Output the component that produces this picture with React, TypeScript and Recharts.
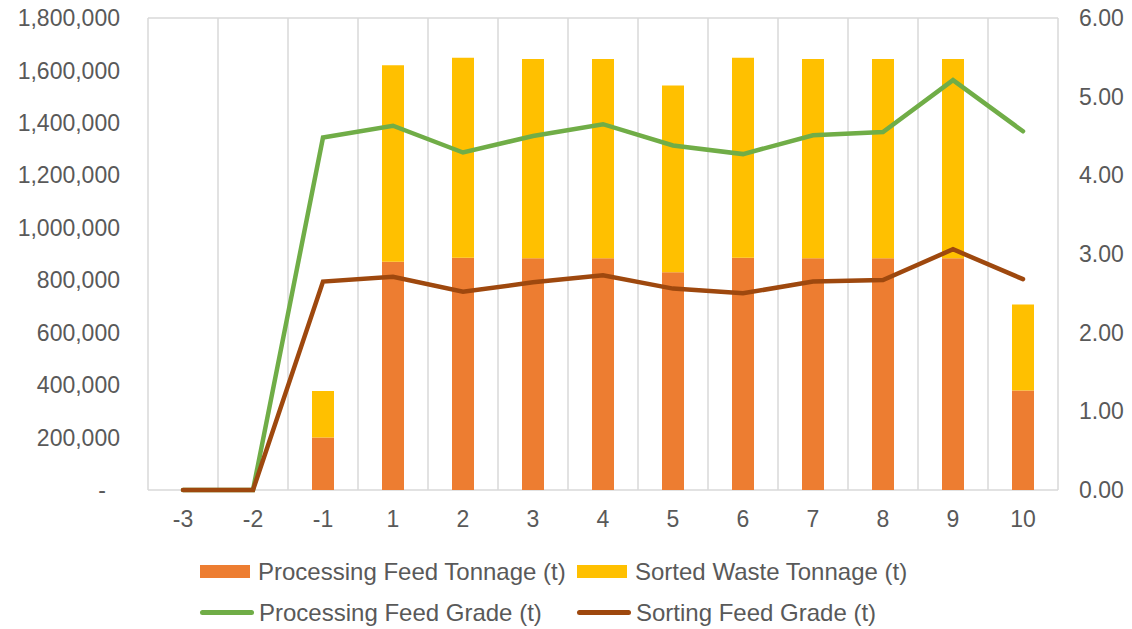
import { ComposedChart, Bar, Line, XAxis, YAxis, CartesianGrid, Legend } from "recharts";

const categories = ["-3", "-2", "-1", "1", "2", "3", "4", "5", "6", "7", "8", "9", "10"];
const processingFeedTonnage = [0, 0, 200000, 870000, 886000, 884000, 884000, 830000, 886000, 884000, 884000, 884000, 379000];
const sortedWasteTonnage = [0, 0, 178000, 750000, 762000, 760000, 760000, 713000, 762000, 760000, 760000, 760000, 328000];
const processingFeedGrade = [0, 0, 4.48, 4.63, 4.29, 4.5, 4.65, 4.38, 4.27, 4.51, 4.55, 5.21, 4.56];
const sortingFeedGrade = [0, 0, 2.65, 2.71, 2.52, 2.64, 2.73, 2.56, 2.5, 2.65, 2.67, 3.06, 2.68];
const tonnageTicks = [0, 200000, 400000, 600000, 800000, 1000000, 1200000, 1400000, 1600000, 1800000];
const gradeTicks = [0, 1, 2, 3, 4, 5, 6];

const data = categories.map((period, i) => ({
  period,
  feed: processingFeedTonnage[i],
  waste: sortedWasteTonnage[i],
  feedGrade: processingFeedGrade[i],
  sortGrade: sortingFeedGrade[i],
}));

const FONT = "'Liberation Sans', Arial, sans-serif";
const TEXT = "#595959";

const TonnageTick = (props: any) => {
  const { x, y, payload } = props;
  const v = payload.value as number;
  return (
    <text
      x={v === 0 ? x - 14 : x}
      y={y}
      dy="0.355em"
      textAnchor="end"
      fill={TEXT}
      fontSize={23}
      fontFamily={FONT}
    >
      {v === 0 ? "-" : v.toLocaleString("en-US")}
    </text>
  );
};

const legendItems = [
  { label: "Processing Feed Tonnage (t)", color: "#ED7D31", kind: "bar" },
  { label: "Sorted Waste Tonnage (t)", color: "#FFC000", kind: "bar" },
  { label: "Processing Feed Grade (t)", color: "#70AD47", kind: "line" },
  { label: "Sorting Feed Grade (t)", color: "#9E480E", kind: "line" },
];

const ChartLegend = () => (
  <div
    style={{
      display: "grid",
      gridTemplateColumns: "377px 377px",
      paddingLeft: 192,
      paddingTop: 20,
      fontFamily: FONT,
      fontSize: 24,
      color: TEXT,
    }}
  >
    {legendItems.map((item) => (
      <div key={item.label} style={{ display: "flex", alignItems: "center", height: 41, whiteSpace: "nowrap" }}>
        {item.kind === "bar" ? (
          <span style={{ display: "inline-block", width: 50, height: 13, background: item.color, marginRight: 8 }} />
        ) : (
          <span style={{ display: "inline-block", width: 54, height: 5, borderRadius: 3, background: item.color, marginRight: 5 }} />
        )}
        {item.label}
      </div>
    ))}
  </div>
);

export default function App() {
  return (
    <div style={{ marginTop: -8 }}>
      <ComposedChart width={1116} height={629} data={data} margin={{ top: 18, right: 0, bottom: 0, left: 0 }}>
        <CartesianGrid
          stroke="#d9d9d9"
          strokeWidth={1.5}
          verticalCoordinatesGenerator={({ offset }: any) =>
            Array.from({ length: categories.length + 1 }, (_, i) => offset.left + (i * offset.width) / categories.length)
          }
        />
        <XAxis
          dataKey="period"
          axisLine={false}
          tickLine={false}
          tickSize={0}
          tickMargin={21}
          height={41}
          interval={0}
          tick={{ fill: TEXT, fontSize: 23, fontFamily: FONT }}
        />
        <YAxis
          yAxisId="left"
          width={140}
          domain={[0, 1800000]}
          ticks={tonnageTicks}
          axisLine={false}
          tickLine={false}
          tickSize={0}
          tickMargin={28}
          tick={<TonnageTick />}
        />
        <YAxis
          yAxisId="right"
          orientation="right"
          width={66}
          domain={[0, 6]}
          ticks={gradeTicks}
          axisLine={false}
          tickLine={false}
          tickSize={0}
          tickMargin={21}
          tickFormatter={(v: number) => v.toFixed(2)}
          tick={{ fill: TEXT, fontSize: 23, fontFamily: FONT }}
        />
        <Legend verticalAlign="bottom" height={98} content={<ChartLegend />} />
        <Bar yAxisId="left" dataKey="feed" stackId="t" fill="#ED7D31" barSize={22} isAnimationActive={false} />
        <Bar yAxisId="left" dataKey="waste" stackId="t" fill="#FFC000" barSize={22} isAnimationActive={false} />
        <Line
          yAxisId="right"
          dataKey="feedGrade"
          type="linear"
          stroke="#70AD47"
          strokeWidth={4.5}
          strokeLinecap="round"
          dot={false}
          activeDot={false}
          isAnimationActive={false}
        />
        <Line
          yAxisId="right"
          dataKey="sortGrade"
          type="linear"
          stroke="#9E480E"
          strokeWidth={4.5}
          strokeLinecap="round"
          dot={false}
          activeDot={false}
          isAnimationActive={false}
        />
      </ComposedChart>
    </div>
  );
}
